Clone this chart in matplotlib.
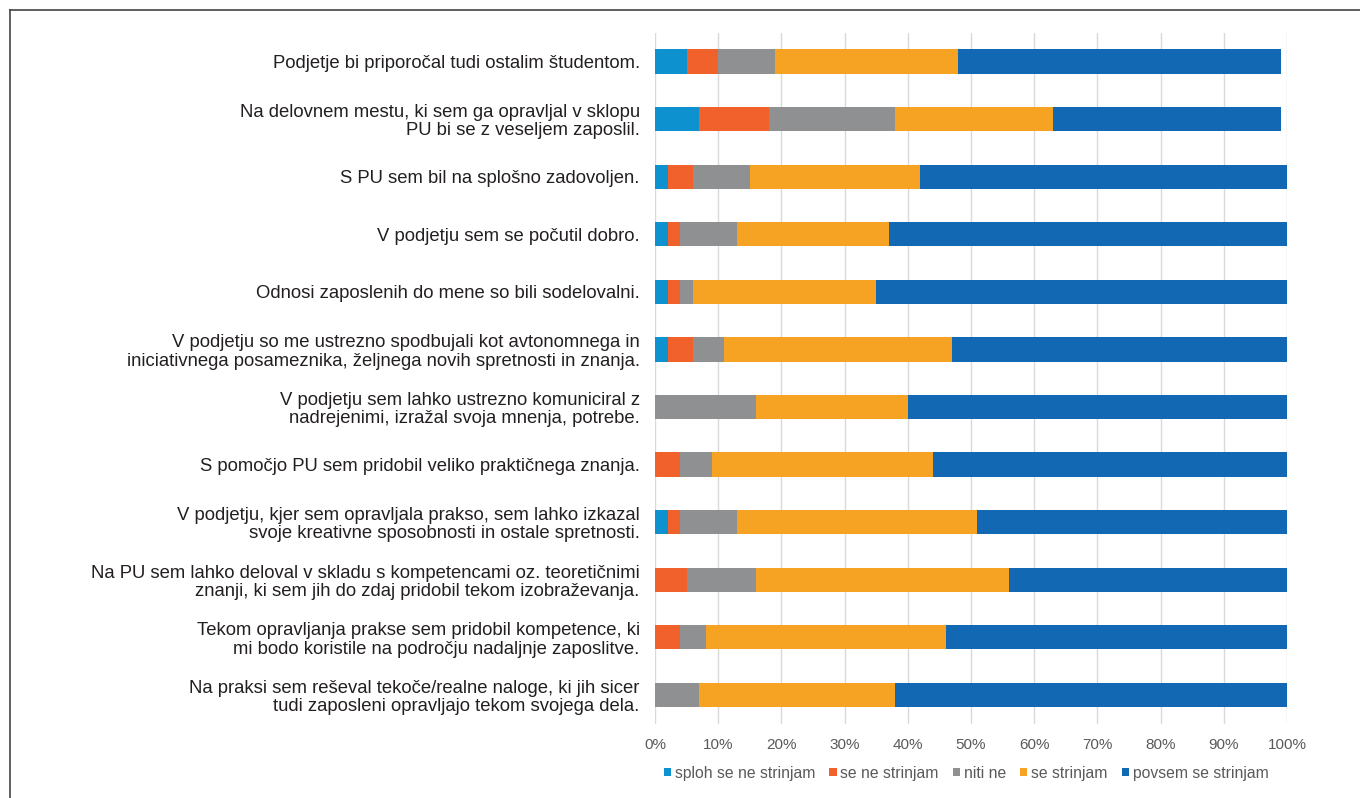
import matplotlib
matplotlib.use("Agg")
import matplotlib.pyplot as plt
from matplotlib.lines import Line2D
from matplotlib.patches import Patch

plt.rcParams['font.family'] = ['Liberation Sans', 'DejaVu Sans']

# statements, top to bottom
labels = [
    "Podjetje bi priporočal tudi ostalim študentom.",
    "Na delovnem mestu, ki sem ga opravljal v sklopu\nPU bi se z veseljem zaposlil.",
    "S PU sem bil na splošno zadovoljen.",
    "V podjetju sem se počutil dobro.",
    "Odnosi zaposlenih do mene so bili sodelovalni.",
    "V podjetju so me ustrezno spodbujali kot avtonomnega in\niniciativnega posameznika, željnega novih spretnosti in znanja.",
    "V podjetju sem lahko ustrezno komuniciral z\nnadrejenimi, izražal svoja mnenja, potrebe.",
    "S pomočjo PU sem pridobil veliko praktičnega znanja.",
    "V podjetju, kjer sem opravljala prakso, sem lahko izkazal\nsvoje kreativne sposobnosti in ostale spretnosti.",
    "Na PU sem lahko deloval v skladu s kompetencami oz. teoretičnimi\nznanji, ki sem jih do zdaj pridobil tekom izobraževanja.",
    "Tekom opravljanja prakse sem pridobil kompetence, ki\nmi bodo koristile na področju nadaljnje zaposlitve.",
    "Na praksi sem reševal tekoče/realne naloge, ki jih sicer\ntudi zaposleni opravljajo tekom svojega dela.",
]

series_names = ["sploh se ne strinjam", "se ne strinjam", "niti ne",
                "se strinjam", "povsem se strinjam"]

sploh_ne = [5, 7, 2, 2, 2, 2, 0, 0, 2, 0, 0, 0]
ne = [5, 11, 4, 2, 2, 4, 0, 4, 2, 5, 4, 0]
niti_ne = [9, 20, 9, 9, 2, 5, 16, 5, 9, 11, 4, 7]
strinjam = [29, 25, 27, 24, 29, 36, 24, 35, 38, 40, 38, 31]
povsem = [51, 36, 58, 63, 65, 53, 60, 56, 49, 44, 54, 62]

colors = ["#0E91CF", "#F0612B", "#8F9092", "#F6A223", "#1268B2"]

fig = plt.figure(figsize=(13.6, 7.98), dpi=100)
ax = fig.add_axes([0.4816, 0.0931, 0.4647, 0.8659])

ypos = list(range(len(labels)))
left = [0] * len(labels)
for name, vals, c in zip(series_names, [sploh_ne, ne, niti_ne, strinjam, povsem], colors):
    ax.barh(ypos, vals, left=left, height=0.42, color=c, label=name, zorder=3)
    left = [a + b for a, b in zip(left, vals)]

ax.set_xlim(0, 100)
ax.set_ylim(len(labels) - 0.5, -0.5)
ax.set_xticks(range(0, 101, 10))
ax.set_xticklabels([f"{v}%" for v in range(0, 101, 10)], fontsize=11, color="#5a5a5a")
ax.set_yticks(ypos)
ax.set_yticklabels(labels, fontsize=13.3, color="#231f20", linespacing=1.1)
ax.tick_params(axis='both', length=0)
ax.tick_params(axis='y', pad=11)
ax.tick_params(axis='x', pad=10)
ax.grid(axis='x', color="#d9d9d9", linewidth=1, zorder=0)
for s in ax.spines.values():
    s.set_visible(False)

handles = [Patch(facecolor=c, edgecolor='none') for c in colors]
fig.legend(handles, series_names, loc='center', bbox_to_anchor=(0.7105, 0.031),
           ncol=5, frameon=False, fontsize=11.3, labelcolor="#5a5a5a",
           handlelength=0.45, handleheight=0.45, handletextpad=0.25, columnspacing=0.9)

# frame lines (left and top)
fig.add_artist(Line2D([10 / 1360, 10 / 1360], [0, 1 - 10 / 798], color="#444444", linewidth=1.2))
fig.add_artist(Line2D([10 / 1360, 1], [1 - 10 / 798, 1 - 10 / 798], color="#444444", linewidth=1.2))

fig.savefig("out.png", dpi=100)
